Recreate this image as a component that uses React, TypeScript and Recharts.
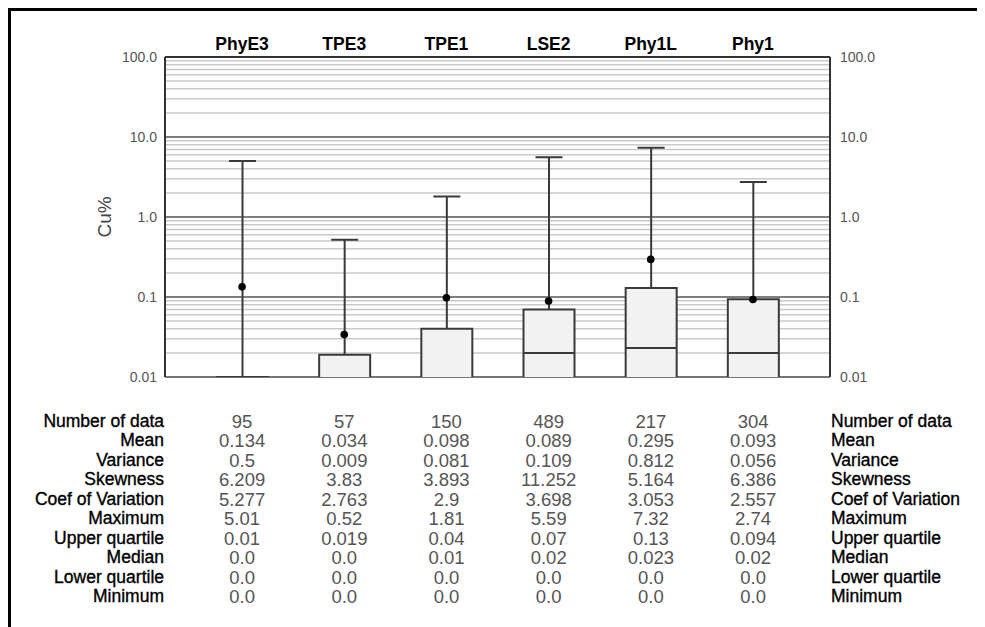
import React from 'react';
import { ComposedChart, Bar, Line, XAxis, YAxis, CartesianGrid } from 'recharts';

const categories = ['PhyE3', 'TPE3', 'TPE1', 'LSE2', 'Phy1L', 'Phy1'];
const counts = [95, 57, 150, 489, 217, 304];
const means = [0.134, 0.034, 0.098, 0.089, 0.295, 0.093];
const variances = [0.5, 0.009, 0.081, 0.109, 0.812, 0.056];
const skewness = [6.209, 3.83, 3.893, 11.252, 5.164, 6.386];
const coefVariation = [5.277, 2.763, 2.9, 3.698, 3.053, 2.557];
const maximums = [5.01, 0.52, 1.81, 5.59, 7.32, 2.74];
const upperQuartiles = [0.01, 0.019, 0.04, 0.07, 0.13, 0.094];
const medians = [0.0, 0.0, 0.01, 0.02, 0.023, 0.02];
const lowerQuartiles = [0.0, 0.0, 0.0, 0.0, 0.0, 0.0];
const minimums = [0.0, 0.0, 0.0, 0.0, 0.0, 0.0];

const majorTicks = [0.01, 0.1, 1, 10, 100];
const majorTickLabels = ['0.01', '0.1', '1.0', '10.0', '100.0'];
const minorTicks = [
  0.02, 0.03, 0.04, 0.05, 0.06, 0.07, 0.08, 0.09,
  0.2, 0.3, 0.4, 0.5, 0.6, 0.7, 0.8, 0.9,
  2, 3, 4, 5, 6, 7, 8, 9,
  20, 30, 40, 50, 60, 70, 80, 90,
];

const statLabels = [
  'Number of data', 'Mean', 'Variance', 'Skewness', 'Coef of Variation',
  'Maximum', 'Upper quartile', 'Median', 'Lower quartile', 'Minimum',
];
const statRows = [
  counts, means, variances, skewness, coefVariation,
  maximums, upperQuartiles, medians, lowerQuartiles, minimums,
];

const AXIS_MIN = 0.01;
const floor = (v: number) => Math.max(v, AXIS_MIN);

const data = categories.map((name, i) => ({
  name,
  box: [floor(lowerQuartiles[i]), floor(upperQuartiles[i])],
  whisker: [floor(upperQuartiles[i]), maximums[i]],
  median: medians[i] > AXIS_MIN ? [AXIS_MIN, medians[i]] : null,
  mean: means[i],
}));

const fmtTick = (v: number) => majorTickLabels[majorTicks.indexOf(v)] ?? String(v);
const fmtStat = (v: number) => (v === 0 ? '0.0' : String(v));

const INK = '#3a3a3a';

const BoxShape = (props: any) => {
  const { x, y, width, height } = props;
  if (x == null || y == null) return null;
  return (
    <g>
      <rect x={x} y={y} width={width} height={height + 1} fill="#f2f2f2" />
      <path
        d={`M${x},${y + height + 1} V${y} H${x + width} V${y + height + 1}`}
        stroke={INK}
        strokeWidth={2}
        fill="none"
      />
    </g>
  );
};

const WhiskerShape = (props: any) => {
  const { x, y, width, height } = props;
  if (x == null || y == null) return null;
  const cx = x + width / 2;
  return (
    <g stroke={INK} strokeWidth={2}>
      <line x1={cx} y1={y} x2={cx} y2={y + height} />
      <line x1={x} y1={y} x2={x + width} y2={y} />
    </g>
  );
};

const MedianShape = (props: any) => {
  const { x, y, width } = props;
  if (x == null || y == null) return null;
  return <line x1={x} y1={y} x2={x + width} y2={y} stroke={INK} strokeWidth={2} />;
};

const CuLabel = (props: any) => {
  const { x, y, height } = props.viewBox;
  const cx = x - 1;
  const cy = y + height / 2;
  return (
    <text
      x={cx}
      y={cy}
      transform={`rotate(-90, ${cx}, ${cy})`}
      textAnchor="middle"
      dominantBaseline="central"
      fontSize={19}
      fill="#444"
    >
      Cu%
    </text>
  );
};

const yTick = { fontSize: 14, fill: '#555' };
const frame = { stroke: '#333', strokeWidth: 2 };
const pad = { left: 26, right: 26 };

const ROW_H = 19.44;
const TABLE_TOP = 401;
const COL_START = 180;
const COL_W = 102.2;

export default function App() {
  return (
    <div
      style={{
        position: 'relative',
        width: 977,
        height: 619,
        boxSizing: 'border-box',
        borderLeft: '3px solid #000',
        borderTop: '3px solid #000',
        overflow: 'hidden',
        fontFamily: '"Liberation Sans", Arial, Helvetica, sans-serif',
      }}
    >
      <div style={{ position: 'absolute', left: 0, top: 0 }}>
        <ComposedChart
          width={966}
          height={400}
          data={data}
          margin={{ top: 16, right: 87, bottom: 34, left: 94 }}
        >
          <CartesianGrid yAxisId="minor" xAxisId="cat" vertical={false} stroke="#cacaca" strokeWidth={1.5} />
          <CartesianGrid yAxisId="left" xAxisId="cat" vertical={false} stroke="#555" strokeWidth={1.5} />
          <XAxis
            xAxisId="cat"
            dataKey="name"
            orientation="top"
            padding={pad}
            height={30}
            interval={0}
            tickLine={false}
            tickSize={0}
            tickMargin={7}
            axisLine={frame}
            tick={{ fontSize: 17.5, fontWeight: 'bold', fill: '#000' }}
          />
          <XAxis xAxisId="whisk" dataKey="name" hide padding={pad} />
          <XAxis xAxisId="med" dataKey="name" hide padding={pad} />
          <YAxis
            yAxisId="left"
            type="number"
            scale="log"
            domain={[0.01, 100]}
            allowDataOverflow
            ticks={majorTicks}
            interval={0}
            tickFormatter={fmtTick}
            width={60}
            tickLine={false}
            tickSize={0}
            tickMargin={8}
            axisLine={frame}
            tick={yTick}
            label={<CuLabel />}
          />
          <YAxis
            yAxisId="right"
            orientation="right"
            type="number"
            scale="log"
            domain={[0.01, 100]}
            allowDataOverflow
            ticks={majorTicks}
            interval={0}
            tickFormatter={fmtTick}
            width={60}
            tickLine={false}
            tickSize={0}
            tickMargin={10}
            axisLine={frame}
            tick={{ ...yTick, textAnchor: 'start' }}
          />
          <YAxis
            yAxisId="minor"
            hide
            type="number"
            scale="log"
            domain={[0.01, 100]}
            allowDataOverflow
            ticks={minorTicks}
            interval={0}
          />
          <Bar
            xAxisId="whisk"
            yAxisId="left"
            dataKey="whisker"
            barSize={27}
            shape={WhiskerShape}
            isAnimationActive={false}
          />
          <Bar
            xAxisId="cat"
            yAxisId="left"
            dataKey="box"
            barSize={51}
            shape={BoxShape}
            isAnimationActive={false}
          />
          <Bar
            xAxisId="med"
            yAxisId="left"
            dataKey="median"
            barSize={51}
            shape={MedianShape}
            isAnimationActive={false}
          />
          <Line
            xAxisId="cat"
            yAxisId="left"
            dataKey="mean"
            stroke="none"
            dot={{ r: 3.8, fill: '#000', stroke: 'none' }}
            activeDot={false}
            isAnimationActive={false}
          />
        </ComposedChart>
      </div>

      {statLabels.map((label, r) => (
        <div
          key={label}
          style={{ position: 'absolute', left: 0, top: TABLE_TOP + r * ROW_H, width: 966, height: ROW_H, lineHeight: `${ROW_H}px` }}
        >
          <div
            style={{
              position: 'absolute', left: 0, width: 153, textAlign: 'right',
              fontSize: 17.5, color: '#000', WebkitTextStroke: '0.35px #000', whiteSpace: 'nowrap',
            }}
          >
            {label}
          </div>
          {statRows[r].map((v, c) => (
            <div
              key={c}
              style={{
                position: 'absolute', left: COL_START + c * COL_W, width: COL_W, textAlign: 'center',
                fontSize: 18.5, color: '#555',
              }}
            >
              {fmtStat(v)}
            </div>
          ))}
          <div
            style={{
              position: 'absolute', left: 820, fontSize: 17.5, color: '#000',
              WebkitTextStroke: '0.35px #000', whiteSpace: 'nowrap',
            }}
          >
            {label}
          </div>
        </div>
      ))}
    </div>
  );
}
